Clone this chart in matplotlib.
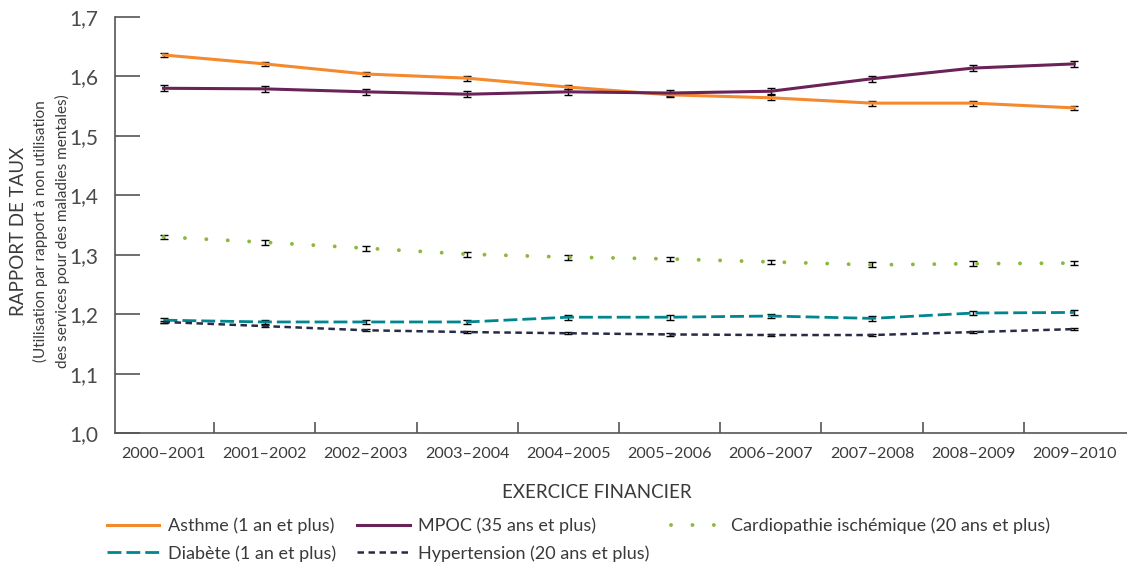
import numpy as np
import matplotlib
matplotlib.use("Agg")
import matplotlib.pyplot as plt
from matplotlib.lines import Line2D

plt.rcParams['font.family'] = ['Lato', 'DejaVu Sans']

# fiscal years on the x axis
years = ["2000–2001", "2001–2002", "2002–2003", "2003–2004", "2004–2005",
         "2005–2006", "2006–2007", "2007–2008", "2008–2009", "2009–2010"]

# rate ratios (use of mental health services vs. no use)
asthme = [1.636, 1.621, 1.604, 1.597, 1.582, 1.569, 1.564, 1.555, 1.555, 1.547]
mpoc = [1.580, 1.579, 1.574, 1.570, 1.574, 1.572, 1.575, 1.596, 1.614, 1.621]
cardio = [1.330, 1.321, 1.311, 1.301, 1.296, 1.293, 1.288, 1.283, 1.285, 1.286]
diabete = [1.190, 1.187, 1.187, 1.187, 1.195, 1.195, 1.197, 1.193, 1.202, 1.203]
hyper = [1.187, 1.180, 1.173, 1.170, 1.168, 1.166, 1.165, 1.165, 1.170, 1.175]

# half-width of the confidence intervals
err_asthme = 0.004
err_mpoc = 0.005
err_cardio = 0.004
err_diabete = 0.004
err_hyper = 0.002

labels = ["Asthme (1 an et plus)", "MPOC (35 ans et plus)",
          "Cardiopathie ischémique (20 ans et plus)",
          "Diabète (1 an et plus)", "Hypertension (20 ans et plus)"]

c_orange = "#F5892E"
c_purple = "#6A2358"
c_green = "#8CB83E"
c_teal = "#00868F"
c_navy = "#272B45"
txt = "#3a3a3a"

fig = plt.figure(figsize=(11.27, 5.64), dpi=100)
ax = fig.add_axes([0.102, 0.232, 0.898, 0.738])

x = np.arange(len(years))

series = [
    (asthme, err_asthme, c_orange, dict(linestyle="-", linewidth=2.2)),
    (mpoc, err_mpoc, c_purple, dict(linestyle="-", linewidth=2.2)),
    (cardio, err_cardio, c_green, dict(linestyle=(0, (0.01, 5.5)), linewidth=2.8,
                                       dash_capstyle="round")),
    (diabete, err_diabete, c_teal, dict(linestyle=(0, (5, 1.8)), linewidth=2.0)),
    (hyper, err_hyper, c_navy, dict(linestyle=(0, (2.6, 1.8)), linewidth=1.8)),
]

handles = []
for (vals, err, col, style), lab in zip(series, labels):
    ax.errorbar(x, vals, yerr=err, fmt="none", ecolor="black", elinewidth=1,
                capsize=3, capthick=1, zorder=2)
    ax.plot(x, vals, color=col, zorder=3, **style)
    handles.append(Line2D([], [], color=col, **style))

ax.set_xlim(-0.48, 9.52)
ax.set_ylim(1.0, 1.7)
yt = np.arange(1.0, 1.71, 0.1)
ax.set_yticks(yt)
ax.set_yticklabels([f"{v:.1f}".replace(".", ",") for v in yt],
                   fontsize=15, color="#4a4a4a")
ax.set_xticks(x)
ax.set_xticklabels(years, fontsize=11.6, color=txt)
ax.set_xticks(np.arange(0.5, 9.0, 1.0), minor=True)
ax.tick_params(axis="x", which="major", length=0, pad=10)
ax.tick_params(axis="x", which="minor", direction="in", length=8, width=1.2,
               color="#555555")
ax.tick_params(axis="y", direction="in", length=18, width=1.2, color="#555555",
               pad=12)

for s in ["top", "right"]:
    ax.spines[s].set_visible(False)
for s in ["left", "bottom"]:
    ax.spines[s].set_color("#555555")
    ax.spines[s].set_linewidth(1.2)

fig.text(0.530, 0.127, "EXERCICE FINANCIER", ha="center", va="center",
         fontsize=13.5, color=txt)

fig.text(0.016, 0.59, "RAPPORT DE TAUX", rotation=90, ha="center", va="center",
         fontsize=13.5, color=txt)
fig.text(0.036, 0.59, "(Utilisation par rapport à non utilisation",
         rotation=90, ha="center", va="center", fontsize=11, color=txt)
fig.text(0.055, 0.59, "des services pour des maladies mentales)",
         rotation=90, ha="center", va="center", fontsize=11, color=txt)

order = [0, 3, 1, 4, 2]
leg = fig.legend([handles[i] for i in order], [labels[i] for i in order],
                 loc="upper left", bbox_to_anchor=(0.095, 0.082), ncol=3,
                 frameon=False, fontsize=13, handlelength=2.9,
                 handletextpad=0.45, columnspacing=1.2, labelspacing=0.6,
                 borderaxespad=0, borderpad=0)
for t in leg.get_texts():
    t.set_color(txt)

fig.savefig("out.png", dpi=100)
